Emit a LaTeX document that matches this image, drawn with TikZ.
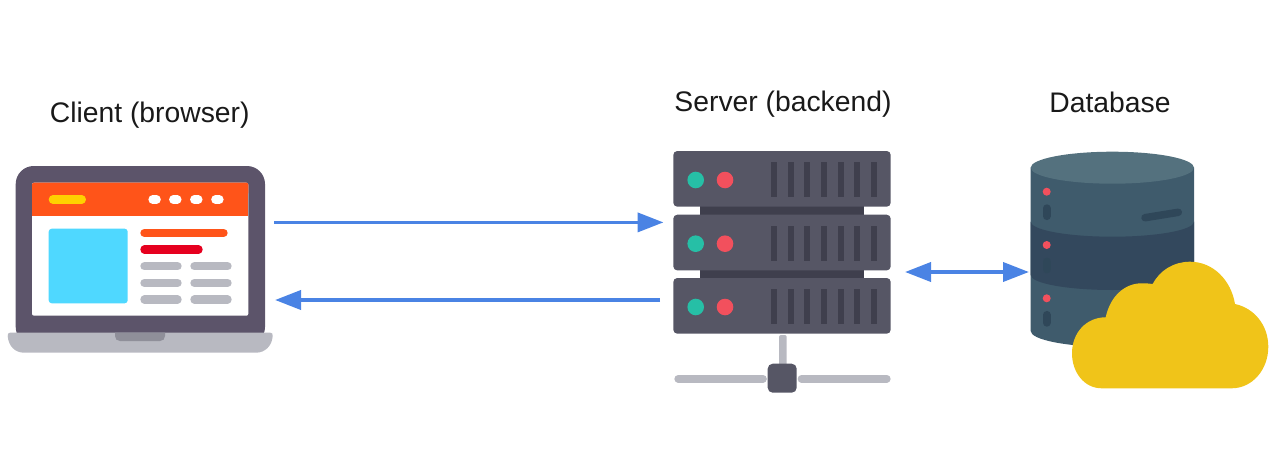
\documentclass[tikz,border=0pt]{standalone}
\usepackage{fontspec}
\setmainfont{Liberation Sans}
\usetikzlibrary{arrows.meta}
\definecolor{arrowblue}{HTML}{4A83E4}
\definecolor{laptopgrey}{HTML}{5C546A}
\definecolor{basegrey}{HTML}{B8B9C1}
\definecolor{notchgrey}{HTML}{8F8F99}
\definecolor{headorange}{HTML}{FF5419}
\definecolor{headyellow}{HTML}{FFD100}
\definecolor{skyblue}{HTML}{4FD8FF}
\definecolor{linered}{HTML}{E6001F}
\definecolor{rackgrey}{HTML}{565665}
\definecolor{rackdark}{HTML}{3F3F4D}
\definecolor{ledgreen}{HTML}{26BFA6}
\definecolor{ledred}{HTML}{F2505D}
\definecolor{dbtop}{HTML}{54717E}
\definecolor{dbside}{HTML}{3F5B6C}
\definecolor{dbdark}{HTML}{33485D}
\definecolor{dbpill}{HTML}{2F4759}
\definecolor{cloudyellow}{HTML}{F0C419}
\tikzset{
	title/.style={font=\fontsize{28.3}{32}\selectfont, text=black!90, inner sep=0pt, anchor=base},
	link/.style={arrowblue, line width=3.8pt},
	pill/.style={line width=8.4pt, line cap=round},
}
\begin{document}
\begin{tikzpicture}[x=1pt, y=-1pt, >={Triangle[length=26pt, width=19pt]}]
	\useasboundingbox (0,0) rectangle (1280,455);
	
	% Laptop
	\fill[laptopgrey, rounded corners=18] (15.7,345) rectangle (265,166);
	\fill[basegrey] (10,332.7) -- (270.4,332.7)
		.. controls (272,332.7) and (272.9,334) .. (272.7,336)
		.. controls (272,346) and (265,352.7) .. (256,352.7)
		-- (24,352.7)
		.. controls (15,352.7) and (8.4,346) .. (7.7,336)
		.. controls (7.5,334) and (8.4,332.7) .. (10,332.7) -- cycle;
	\fill[notchgrey] (115,332.7) -- (165,332.7) -- (165,336)
		.. controls (165,339) and (163,341) .. (160,341)
		-- (120,341)
		.. controls (117,341) and (115,339) .. (115,336) -- cycle;
	\fill[white, rounded corners=2] (32,182.7) rectangle (248.3,315.7);
	\fill[headorange, rounded corners=2] (32,182.7) rectangle (248.3,195);
	\fill[headorange] (32,190) rectangle (248.3,215.7);
	\draw[pill, headyellow] (52.9,199.5) -- (81.8,199.5);
	\foreach \x in {154.6,175.3,196.3,217.4}
		\draw[pill, white] (\x-2,199.5) -- (\x+2,199.5);
	\fill[skyblue, rounded corners=3] (48.7,228.7) rectangle (127.7,303.3);
	\draw[pill, headorange] (144.5,232.9) -- (223.5,232.9);
	\draw[pill, linered] (144.5,249.5) -- (198.5,249.5);
	\foreach \y in {266.2,282.9,299.5} {
		\draw[pill, basegrey] (144.5,\y) -- (177.5,\y);
		\draw[pill, basegrey] (194.5,\y) -- (227.5,\y);
	}
	
	% Server
	\fill[rackdark] (700,204) rectangle (864,217);
	\fill[rackdark] (700,268) rectangle (864,280);
	\foreach \y in {151,214.7,278} {
		\fill[rackgrey, rounded corners=4] (673.3,\y) rectangle (890.7,\y+55.7);
		\fill[ledgreen] (695.7,\y+29) circle (8.3);
		\fill[ledred] (725,\y+29) circle (8.3);
		\foreach \x in {774,790.7,807.3,824,840.7,857.3,874}
			\fill[rackdark] (\x-3,\y+11.3) rectangle (\x+3,\y+46);
	}
	\fill[basegrey, rounded corners=2] (779,335) rectangle (786.7,366);
	\draw[basegrey, line width=7.7pt, line cap=round] (678.2,378.8) -- (763,378.8);
	\draw[basegrey, line width=7.7pt, line cap=round] (801.5,378.8) -- (886.8,378.8);
	\fill[rackgrey, rounded corners=5] (767.7,363.7) rectangle (796.7,392.7);
	
	% Datenbank
	\fill[dbside] (1030.7,167.7) -- (1030.7,331) arc[start angle=180, end angle=0, x radius=81.65, y radius=16] -- (1194,167.7) -- cycle;
	\fill[dbdark] (1030.7,221.7) arc[start angle=180, end angle=0, x radius=81.65, y radius=15] -- (1194,275) arc[start angle=0, end angle=180, x radius=81.65, y radius=15] -- cycle;
	\fill[dbtop] (1112.35,167.7) ellipse (81.65 and 16);
	\foreach \y in {191.7,245,298.3} {
		\fill[ledred] (1046.7,\y) circle (4);
		\draw[dbpill, line width=8pt, line cap=round] (1046.7,\y+16.6) -- (1046.7,\y+24.4);
	}
	\draw[dbpill, line width=7.5pt, line cap=round] (1145,217.7) -- (1178.3,212.3);
	
	% Wolke
	\fill[cloudyellow] (1101.7,388.3)
		.. controls (1084,388.3) and (1072,372) .. (1072,353.3)
		.. controls (1072,333) and (1086,317.3) .. (1105.7,317.3)
		.. controls (1110,297) and (1124,283.3) .. (1141.7,283.3)
		.. controls (1146,283.3) and (1149.5,283.5) .. (1152.7,284)
		.. controls (1160,270) and (1174,261.7) .. (1190,261.7)
		.. controls (1213,261.7) and (1231,280) .. (1235,304)
		.. controls (1254,308) and (1268.3,325) .. (1268.3,346.7)
		.. controls (1268.3,370) and (1252,388.3) .. (1231.7,388.3)
		-- cycle;
	
	% Beschriftung
	\node[title] (clientlabel) at (149.7,122.7) {Client (browser)};
	\node[title] (serverlabel) at (783,111.7) {Server (backend)};
	\node[title] (dblabel) at (1110,112.2) {Database};
	
	% Pfeile
	\coordinate (clientout) at (274,222.4);
	\coordinate (serverin) at (663.5,222.4);
	\coordinate (serverout) at (660,300);
	\coordinate (clientin) at (275,300);
	\coordinate (serverdb) at (905,272);
	\coordinate (dbserver) at (1029,272);
	\draw[link, ->] (clientout) -- (serverin);
	\draw[link, ->] (serverout) -- (clientin);
	\draw[link, <->] (serverdb) -- (dbserver);
\end{tikzpicture}
\end{document}
